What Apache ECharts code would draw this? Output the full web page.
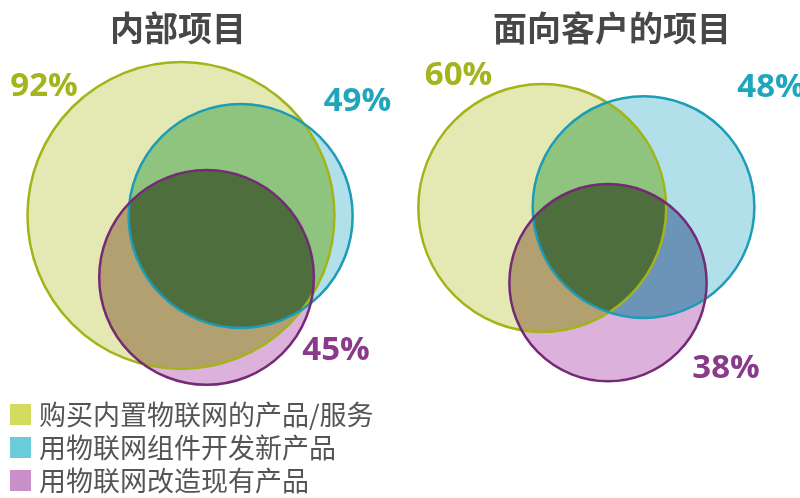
<!DOCTYPE html>
<html>
<head>
<meta charset="utf-8">
<script src="https://cdn.jsdelivr.net/npm/echarts@6/dist/echarts.min.js"></script>
<style>
  html, body { margin: 0; padding: 0; background: #ffffff; }
  #chart { width: 800px; height: 498px; }
</style>
</head>
<body>
<div id="chart"></div>
<script>
// Share of respondents (%) per project type
const panelTitles = ['内部项目', '面向客户的项目'];
const categories = ['购买内置物联网的产品/服务', '用物联网组件开发新产品', '用物联网改造现有产品'];
const internalShare = [92, 49, 45];
const customerShare = [60, 48, 38];
const shares = [internalShare, customerShare];

// Layout in chart units: a circle's radius is sqrt(share) units
const circleCenters = [
  [[11.31, 13.47], [15.04, 13.50], [12.91, 17.34]],
  [[33.89, 13.00], [40.22, 12.94], [38.00, 17.67]]
];
const labelAnchors = [
  [[2.75, 5.44], [22.34, 6.38], [21.00, 21.94]],
  [[28.66, 4.75], [48.19, 5.50], [45.38, 23.06]]
];

// Colours
const legendColors = ['#d2db5e', '#6ccbd8', '#c98fc9'];
const strokeColors = ['#a3b418', '#1c9cb6', '#752a75'];
const labelColors = ['#a3b41c', '#1fa6bd', '#8a3a8a'];
const soloFill = ['#e4e8b2', '#b2e0ea', '#dcb2dc'];
const fillYC = '#8ec47e';
const fillYP = '#b3a070';
const fillCP = '#6b94b8';
const fillYCP = '#4e6e3e';

const FONT = '"Noto Sans CJK SC", "Noto Sans", sans-serif';

function circleGeom(api, panel, k) {
  const c = circleCenters[panel][k];
  const p = api.coord(c);
  const r = api.size([Math.sqrt(shares[panel][k]), 0], c)[0];
  return { cx: p[0], cy: p[1], r: r };
}

function fillRenderer(k) {
  return function (params, api) {
    const panel = api.value(3);
    const g = [0, 1, 2].slice(0, k + 1).map(function (j) { return circleGeom(api, panel, j); });
    const own = g[k];
    const children = [{ type: 'circle', shape: own, style: { fill: soloFill[k] } }];
    if (k === 1) {
      children.push({ type: 'circle', shape: own, style: { fill: fillYC },
        clipPath: { type: 'circle', shape: g[0] } });
    }
    if (k === 2) {
      children.push({ type: 'circle', shape: own, style: { fill: fillYP },
        clipPath: { type: 'circle', shape: g[0] } });
      children.push({ type: 'circle', shape: own, style: { fill: fillCP },
        clipPath: { type: 'circle', shape: g[1] } });
      children.push({ type: 'group', clipPath: { type: 'circle', shape: g[0] },
        children: [{ type: 'circle', shape: own, style: { fill: fillYCP },
          clipPath: { type: 'circle', shape: g[1] } }] });
    }
    return { type: 'group', children: children };
  };
}

const fillSeries = categories.map(function (name, k) {
  return {
    name: name,
    type: 'custom',
    coordinateSystem: 'cartesian2d',
    itemStyle: { color: legendColors[k] },
    encode: { x: 0, y: 1 },
    z: 2 + k,
    silent: true,
    data: shares.map(function (vals, panel) {
      return [circleCenters[panel][k][0], circleCenters[panel][k][1], vals[k], panel];
    }),
    renderItem: fillRenderer(k)
  };
});

// Outlines and value labels drawn over all fills
const outlineData = [];
shares.forEach(function (vals, panel) {
  vals.forEach(function (v, k) {
    outlineData.push([circleCenters[panel][k][0], circleCenters[panel][k][1], v, panel, k]);
  });
});

const outlineSeries = {
  name: 'outline',
  type: 'custom',
  coordinateSystem: 'cartesian2d',
  encode: { x: 0, y: 1 },
  z: 10,
  silent: true,
  data: outlineData,
  renderItem: function (params, api) {
    const panel = api.value(3);
    const k = api.value(4);
    const value = api.value(2);
    const geo = circleGeom(api, panel, k);
    const lp = api.coord(labelAnchors[panel][k]);
    return {
      type: 'group',
      children: [
        { type: 'circle', shape: geo,
          style: { fill: 'none', stroke: strokeColors[k], lineWidth: 2.5, blend: 'multiply' } },
        { type: 'text', x: lp[0], y: lp[1],
          style: { text: value + '%', fill: labelColors[k], fontSize: 33, fontWeight: 'bold',
            fontFamily: '"Open Sans", "Noto Sans", sans-serif',
            align: 'center', verticalAlign: 'middle' } }
      ]
    };
  }
};

const chart = echarts.init(document.getElementById('chart'), null, { renderer: 'canvas' });
chart.setOption({
  animation: false,
  backgroundColor: '#ffffff',
  title: panelTitles.map(function (t, i) {
    return {
      text: t,
      left: i === 0 ? 173 : 607,
      top: 6,
      textAlign: 'center',
      textStyle: { fontSize: 34, fontWeight: 'bold', color: '#474747', fontFamily: FONT }
    };
  }),
  legend: {
    data: categories,
    orient: 'vertical',
    left: 10,
    top: 401,
    padding: 0,
    icon: 'rect',
    itemWidth: 21,
    itemHeight: 21,
    itemGap: 6,
    selectedMode: false,
    textStyle: { fontSize: 27, color: '#555555', fontFamily: FONT, lineHeight: 27, padding: [0, 0, 0, 3] }
  },
  grid: { left: 0, top: 0, right: 0, bottom: 0 },
  xAxis: { type: 'value', min: 0, max: 50, show: false },
  yAxis: { type: 'value', min: 0, max: 31.125, inverse: true, show: false },
  series: fillSeries.concat([outlineSeries])
});
</script>
</body>
</html>
